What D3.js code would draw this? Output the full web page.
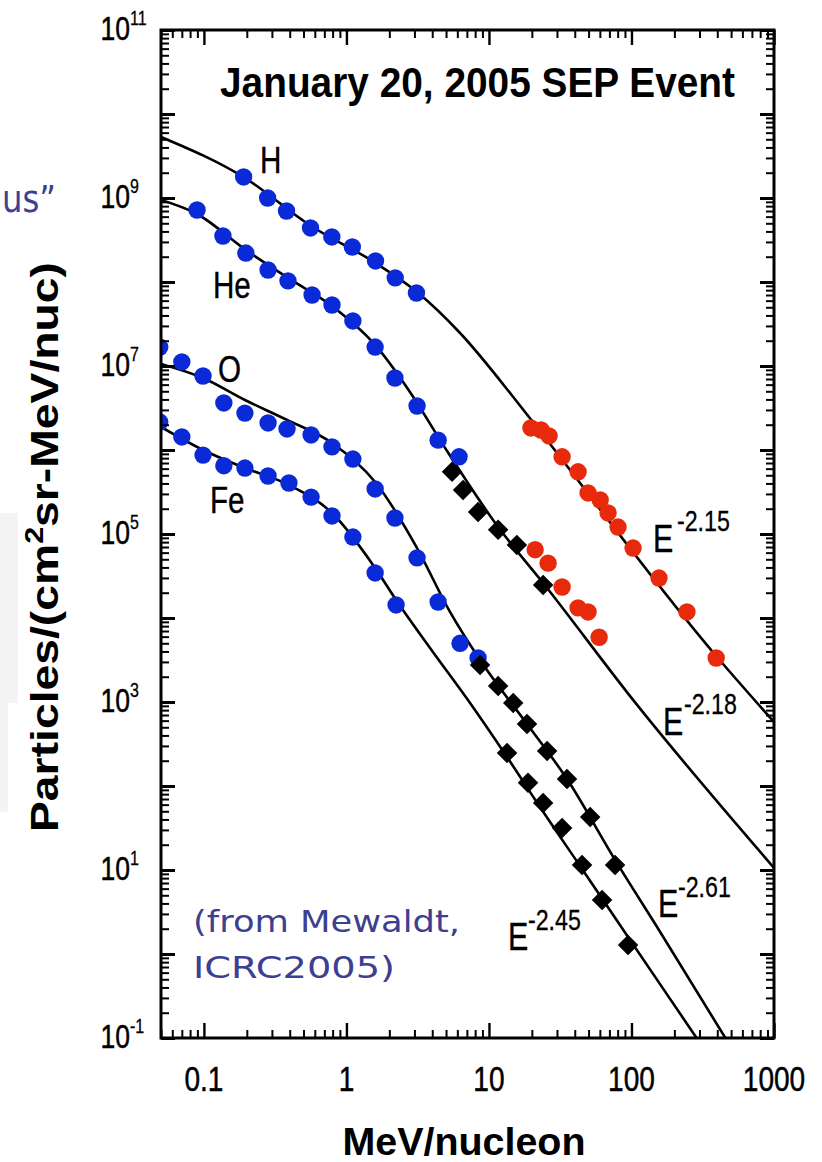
<!DOCTYPE html>
<html><head><meta charset="utf-8">
<script src="https://cdn.jsdelivr.net/npm/d3@7"></script>
<style>html,body{margin:0;padding:0;background:#fff;}svg{display:block;}</style>
</head><body>
<script>
// ---------------- data ----------------
const H_low_E  = [0.19, 0.28, 0.38, 0.56, 0.79, 1.1, 1.6, 2.2, 3.1];
const H_low_F  = [1.78e9, 1.0e9, 7.0e8, 4.4e8, 3.44e8, 2.61e8, 1.78e8, 1.12e8, 7.4e7];
const H_high_E = [19.7, 23.2, 26.4, 32.6, 42.2, 49.6, 60.3, 68.5, 80.5, 102.6, 156, 245, 393];
const H_high_F = [1.83e6, 1.73e6, 1.47e6, 8.3e5, 5.5e5, 3.08e5, 2.54e5, 1.78e5, 1.21e5, 6.8e4, 2.99e4, 1.18e4, 3.34e3];

const He_low_E  = [0.0895, 0.136, 0.197, 0.282, 0.389, 0.574, 0.792, 1.11, 1.59, 2.19, 3.13, 4.40, 6.17];
const He_low_F  = [7.2e8, 3.53e8, 2.21e8, 1.39e8, 1.03e8, 7.0e7, 5.32e7, 3.44e7, 1.68e7, 7.2e6, 3.34e6, 1.31e6, 8.3e5];
const He_mid_E  = [5.51, 6.58, 8.39, 11.6, 15.7, 24.0];
const He_mid_F  = [5.5e5, 3.34e5, 1.83e5, 1.12e5, 7.4e4, 2.47e4];
const He_high_E = [21.1, 26.0, 32.6, 42.2, 49.6, 59.3];
const He_high_F = [6.5e4, 4.5e4, 2.34e4, 1.32e4, 1.18e4, 5.9e3];

const O_low_E  = [0.049, 0.070, 0.0986, 0.138, 0.194, 0.282, 0.383, 0.565, 0.792, 1.11, 1.59, 2.19, 3.13, 4.40, 6.27, 8.39];
const O_low_F  = [1.68e7, 1.12e7, 7.6e6, 3.63e6, 2.75e6, 2.10e6, 1.78e6, 1.51e6, 1.09e6, 7.8e5, 3.44e5, 1.55e5, 5.2e4, 1.55e4, 5.0e3, 3.34e3];
const O_high_E = [8.66, 11.6, 14.8, 18.5, 25.6, 35.3, 51.3, 76.7];
const O_high_F = [2.75e3, 1.55e3, 973, 547, 261, 121, 42.8, 11.5];

const Fe_low_E  = [0.049, 0.070, 0.0986, 0.138, 0.194, 0.282, 0.395, 0.565, 0.792, 1.11, 1.59, 2.23];
const Fe_low_F  = [2.15e6, 1.43e6, 8.7e5, 6.5e5, 6.1e5, 4.9e5, 4.05e5, 2.75e5, 1.64e5, 9.2e4, 3.44e4, 1.43e4];
const Fe_high_E = [13.4, 18.8, 24.0, 32.6, 45.0, 62.2, 94.6];
const Fe_high_F = [247, 109, 62.8, 31.6, 11.5, 4.40, 1.28];

// fitted spectra (curves)
const H_fit_E  = [0.05, 0.194, 0.565, 1.56, 3.13, 6.27, 14.8, 20.1, 393, 1000];
const H_fit_F  = [5.32e9, 1.73e9, 4.64e8, 1.73e8, 7.6e7, 2.47e7, 4.28e6, 2.21e6, 3.53e3, 578];
const He_fit_E = [0.05, 0.0895, 0.197, 0.389, 0.792, 1.59, 2.79, 4.92, 11.6, 24.0, 102.6, 1000];
const He_fit_F = [9.47e8, 6.45e8, 2.40e8, 1.12e8, 5.18e7, 1.78e7, 4.90e6, 1.06e6, 1.21e5, 2.61e4, 1.06e3, 10.6];
const O_fit_E  = [0.05, 0.0986, 0.194, 0.383, 0.792, 1.59, 3.13, 5.33, 8.66, 18.5, 35.3, 76.7, 159, 578];
const O_fit_F  = [1.06e7, 7.2e6, 3.94e6, 2.28e6, 1.21e6, 4.16e5, 6.8e4, 1.18e4, 3.16e3, 547, 121, 13.2, 1.83, 0.052];
const Fe_fit_E = [0.05, 0.0986, 0.194, 0.395, 0.792, 1.59, 2.23, 3.86, 7.37, 13.4, 22.8, 45.0, 94.6, 271, 356];
const Fe_fit_F = [1.88e6, 1.0e6, 6.1e5, 3.83e5, 1.78e5, 3.94e4, 1.64e4, 4.40e3, 973, 221, 56.2, 10.3, 1.59, 0.115, 0.058];

// labels
const xTickValues = [0.1, 1, 10, 100, 1000];
const xTickLabels = ["0.1", "1", "10", "100", "1000"];
const yLabelExponents = ["11", "9", "7", "5", "3", "1", "-1"];
const speciesNames = ["H", "He", "O", "Fe"];
const powerLabels = ["-2.15", "-2.18", "-2.61", "-2.45"];
const titleText = "January 20, 2005 SEP Event";

// ---------------- drawing ----------------
const W = 822, H = 1162;
const svg = d3.select("body").append("svg").attr("width", W).attr("height", H);
const FONT = "'Liberation Sans', Arial, Helvetica, sans-serif";

// faint grey remnants at the left edge
svg.append("rect").attr("x", 0).attr("y", 513).attr("width", 18).attr("height", 190).attr("fill", "#f4f4f4");
svg.append("rect").attr("x", 0).attr("y", 700).attr("width", 8).attr("height", 112).attr("fill", "#f4f4f4");

const L = 161, R = 774, T = 30, B = 1038;
const x = d3.scaleLog().domain([0.05, 1000]).range([L, R]);
const y = d3.scaleLog().domain([0.1, 1e11]).range([B, T]);

svg.append("clipPath").attr("id", "plot").append("rect")
  .attr("x", L).attr("y", T).attr("width", R - L).attr("height", B - T);

const plot = svg.append("g").attr("clip-path", "url(#plot)");

const zip = (E, F) => E.map((e, i) => [e, F[i]]);
const line = d3.line().x(d => x(d[0])).y(d => y(d[1])).curve(d3.curveMonotoneX);

[[H_fit_E, H_fit_F], [He_fit_E, He_fit_F], [O_fit_E, O_fit_F], [Fe_fit_E, Fe_fit_F]].forEach(([E, F]) => {
  plot.append("path").attr("d", line(zip(E, F))).attr("fill", "none")
    .attr("stroke", "#000").attr("stroke-width", 2.6).attr("stroke-linejoin", "round");
});

const BLUE = "#0a2ad8", RED = "#e82a0c";
function circles(E, F, col) {
  plot.append("g").selectAll("circle").data(zip(E, F)).join("circle")
    .attr("cx", d => x(d[0])).attr("cy", d => y(d[1])).attr("r", 8.7).attr("fill", col);
}
function diamonds(E, F) {
  const sym = d3.symbol().type(d3.symbolSquare).size(210);
  plot.append("g").selectAll("path").data(zip(E, F)).join("path")
    .attr("d", sym).attr("fill", "#000")
    .attr("transform", d => `translate(${x(d[0])},${y(d[1])}) rotate(45)`);
}
circles(H_low_E, H_low_F, BLUE);
circles(He_low_E, He_low_F, BLUE);
circles(O_low_E, O_low_F, BLUE);
circles(Fe_low_E, Fe_low_F, BLUE);
diamonds(He_mid_E, He_mid_F);
diamonds(O_high_E, O_high_F);
diamonds(Fe_high_E, Fe_high_F);
circles(H_high_E, H_high_F, RED);
circles(He_high_E, He_high_F, RED);

// ---------------- axes ----------------
const xMinor = [];
for (let k = -2; k <= 2; k++) for (let m = 2; m <= 9; m++) { const v = m * Math.pow(10, k); if (v >= 0.05 && v <= 1000) xMinor.push(v); }
const yMajor = d3.range(-1, 12).map(k => Math.pow(10, k));
const yMinor = [];
for (let k = -1; k <= 10; k++) for (let m = 2; m <= 9; m++) yMinor.push(m * Math.pow(10, k));

function styleAxis(g, w) {
  g.select(".domain").remove();
  g.selectAll("line").attr("stroke", "#000").attr("stroke-width", w);
  g.selectAll("text").remove();
}
const axes = svg.append("g");
axes.append("g").attr("transform", `translate(0,${B})`).call(d3.axisBottom(x).tickValues(xTickValues).tickSize(-15).tickFormat("")).call(g => styleAxis(g, 2.4));
axes.append("g").attr("transform", `translate(0,${B})`).call(d3.axisBottom(x).tickValues(xMinor).tickSize(-8).tickFormat("")).call(g => styleAxis(g, 2));
axes.append("g").attr("transform", `translate(0,${T})`).call(d3.axisTop(x).tickValues(xTickValues).tickSize(-15).tickFormat("")).call(g => styleAxis(g, 2.4));
axes.append("g").attr("transform", `translate(0,${T})`).call(d3.axisTop(x).tickValues(xMinor).tickSize(-8).tickFormat("")).call(g => styleAxis(g, 2));
axes.append("g").attr("transform", `translate(${L},0)`).call(d3.axisLeft(y).tickValues(yMajor).tickSize(-14).tickFormat("")).call(g => styleAxis(g, 3));
axes.append("g").attr("transform", `translate(${L},0)`).call(d3.axisLeft(y).tickValues(yMinor).tickSize(-8).tickFormat("")).call(g => styleAxis(g, 2));
axes.append("g").attr("transform", `translate(${R},0)`).call(d3.axisRight(y).tickValues(yMajor).tickSize(-14).tickFormat("")).call(g => styleAxis(g, 3));
axes.append("g").attr("transform", `translate(${R},0)`).call(d3.axisRight(y).tickValues(yMinor).tickSize(-8).tickFormat("")).call(g => styleAxis(g, 2));
axes.append("rect").attr("x", L).attr("y", T).attr("width", R - L).attr("height", B - T)
  .attr("fill", "none").attr("stroke", "#000").attr("stroke-width", 3);

// ---------------- text ----------------
function txt(x0, y0, s, o) {
  const t = svg.append("text")
    .attr("transform", `translate(${x0},${y0}) scale(${o.sx || 1},1)`)
    .attr("font-family", o.family || FONT).attr("font-size", o.fs)
    .attr("font-weight", o.fw || "normal").attr("text-anchor", o.anchor || "start")
    .attr("fill", o.fill || "#000").text(s);
  if (o.sw) t.attr("stroke", o.fill || "#000").attr("stroke-width", o.sw);
  if (o.len) t.attr("textLength", o.len).attr("lengthAdjust", "spacingAndGlyphs");
  return t;
}

// y tick labels 10^n
yLabelExponents.forEach(e => {
  const yy = y(Math.pow(10, +e));
  txt(130, yy + 10, "10", { fs: 34, sx: 0.78, anchor: "end", sw: 0.5 });
  txt(130, yy - 5, e, { fs: 20, sx: 0.8, sw: 0.3 });
});
// x tick labels
xTickValues.forEach((v, i) => txt(x(v), 1091, xTickLabels[i], { fs: 36, sx: 0.78, anchor: "middle", sw: 0.5 }));

// title
txt(220, 97, titleText, { fs: 43, fw: "bold", len: 515 });

// axis titles
txt(464, 1155, "MeV/nucleon", { fs: 38, fw: "bold", anchor: "middle", len: 243 });
const yt = svg.append("text").attr("transform", "translate(58,547) rotate(-90)")
  .attr("font-family", FONT).attr("font-size", 38).attr("font-weight", "bold")
  .attr("text-anchor", "middle").attr("textLength", 570).attr("lengthAdjust", "spacingAndGlyphs");
yt.append("tspan").text("Particles/(cm");
yt.append("tspan").attr("dy", -15).attr("font-size", 25).text("2");
yt.append("tspan").attr("dy", 15).text("sr-MeV/nuc)");

// species labels
const speciesPos = [[260, 173], [213, 298], [218, 382], [210, 513]];
speciesNames.forEach((s, i) => txt(speciesPos[i][0], speciesPos[i][1], s, { fs: 37, sx: 0.8, sw: 0.4 }));

// power-law labels
const powerPos = [[653, 552, 677, 531], [663, 735, 684, 714], [658, 917, 678, 897], [508, 950, 528, 930]];
powerLabels.forEach((p, i) => {
  const [ex, ey, sxp, syp] = powerPos[i];
  txt(ex, ey, "E", { fs: 38, sx: 0.8, sw: 0.4 });
  txt(sxp, syp, p, { fs: 29, sx: 0.8, sw: 0.3 });
});

// blue annotations
const NAVY = "#3c4091";
txt(193, 932, "(from Mewaldt,", { fs: 31, fill: NAVY, family: "'DejaVu Sans', sans-serif", len: 267 });
txt(193, 978, "ICRC2005)", { fs: 31, fill: NAVY, family: "'DejaVu Sans', sans-serif", len: 202 });
txt(2, 212, "us\u201D", { fs: 38, fill: NAVY, family: "'DejaVu Sans', sans-serif", len: 54 });
</script>
</body></html>
